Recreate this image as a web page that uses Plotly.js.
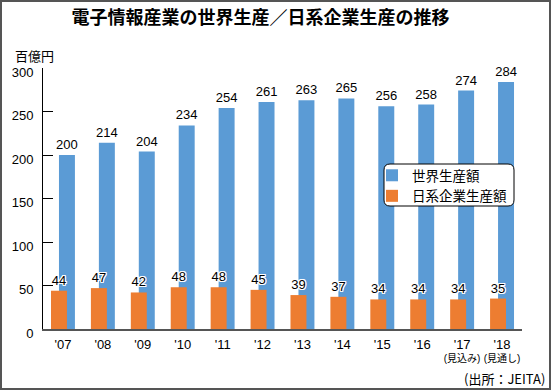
<!DOCTYPE html>
<html>
<head>
<meta charset="utf-8">
<script src="https://cdn.plot.ly/plotly-3.0.1.min.js"></script>
<style>
html,body{margin:0;padding:0;background:#fff;}
#chart{width:552px;height:391px;}
</style>
</head>
<body>
<div id="chart"></div>
<script>
var years = ["2007","2008","2009","2010","2011","2012","2013","2014","2015","2016","2017","2018"];
var tickLabels = ["'07","'08","'09","'10","'11","'12","'13","'14","'15","'16","'17","'18"];
var tickNotes = ["","","","","","","","","","","(見込み)","(見通し)"];
var worldProduction = [200,214,204,234,254,261,263,265,256,258,274,284];
var japanProduction = [44,47,42,48,48,45,39,37,34,34,34,35];
var seriesNames = ["世界生産額","日系企業生産額"];

var LATIN = "'Liberation Sans', Arial, 'Noto Sans CJK JP', sans-serif";
var CJK = "'Noto Sans CJK JP', 'Liberation Sans', sans-serif";
var halo = "1px 1px 0 #fff, -1px -1px 0 #fff, 1px -1px 0 #fff, -1px 1px 0 #fff, 0 1px 0 #fff, 0 -1px 0 #fff, 1px 0 0 #fff, -1px 0 0 #fff";

var ticktext = tickLabels.map(function(t, i){
  var s = "<span style='font-size:13px'>" + t + "</span>";
  if (tickNotes[i]) s += "<br>" + tickNotes[i];
  return s;
});

var traces = [
  {
    type: "bar", name: seriesNames[0], x: years, y: worldProduction,
    width: 0.4, offset: -0.1,
    marker: {color: "#5b9bd5"},
    text: worldProduction.map(String), textposition: "outside",
    constraintext: "none", cliponaxis: false,
    textfont: {family: LATIN, size: 13, color: "#000", shadow: halo},
    hoverinfo: "none"
  },
  {
    type: "bar", name: seriesNames[1], x: years, y: japanProduction,
    width: 0.4, offset: -0.3,
    marker: {color: "#ed7d31"},
    text: japanProduction.map(String), textposition: "outside",
    constraintext: "none", cliponaxis: false,
    textfont: {family: LATIN, size: 13, color: "#000", shadow: halo},
    hoverinfo: "none"
  }
];

// plot area: x 43..522, y 68..329
function px(x){ return (x - 43) / 479; }
function py(y){ return (329 - y) / 261; }
function roundRect(x0, y0, x1, y1, r){
  var rx = r / 479, ry = r / 261;
  var a = px(x0), b = px(x1), t = py(y0), u = py(y1);
  return "M" + (a+rx) + "," + t + " L" + (b-rx) + "," + t +
    " Q" + b + "," + t + " " + b + "," + (t-ry) +
    " L" + b + "," + (u+ry) + " Q" + b + "," + u + " " + (b-rx) + "," + u +
    " L" + (a+rx) + "," + u + " Q" + a + "," + u + " " + a + "," + (u+ry) +
    " L" + a + "," + (t-ry) + " Q" + a + "," + t + " " + (a+rx) + "," + t + " Z";
}

var layout = {
  width: 552, height: 391,
  margin: {l: 43, r: 30, t: 68, b: 62},
  paper_bgcolor: "#fff", plot_bgcolor: "#fff",
  barmode: "overlay",
  showlegend: true,
  title: {
    text: "電子情報産業の世界生産／日系企業生産の推移",
    font: {family: CJK, size: 18, color: "#000", weight: "bold"},
    xref: "container", yref: "container", x: 0.472, xanchor: "center", y: 0.955, yanchor: "middle"
  },
  xaxis: {
    type: "category", tickvals: years, ticktext: ticktext,
    tickfont: {family: LATIN, size: 10, color: "#000"},
    showline: true, linecolor: "#555", linewidth: 2,
    ticks: "", showgrid: false, zeroline: false, fixedrange: true,
    ticklabelstandoff: 6
  },
  yaxis: {
    range: [0, 300], dtick: 50, tick0: 0,
    tickfont: {family: LATIN, size: 13, color: "#000"},
    ticks: "inside", ticklen: 10, tickcolor: "#000", tickwidth: 1,
    showline: true, linecolor: "#000", linewidth: 1,
    showgrid: false, zeroline: false, ticklabelshift: 4, ticklabelstandoff: 6,
    fixedrange: true
  },
  legend: {
    x: px(372), y: py(160), xanchor: "left", yanchor: "top",
    bgcolor: "rgba(0,0,0,0)", borderwidth: 0,
    font: {family: CJK, size: 13.5, color: "#000"},
    traceorder: "normal", tracegroupgap: 0
  },
  shapes: [
    {type: "path", xref: "paper", yref: "paper", layer: "above",
     path: roundRect(384, 164, 514, 206, 6),
     line: {color: "#000", width: 1}, fillcolor: "#fff"},
    {type: "rect", xref: "paper", yref: "paper", layer: "above",
     x0: px(1), x1: px(550), y0: py(389), y1: py(1),
     line: {color: "#555", width: 2}, fillcolor: "rgba(0,0,0,0)"}
  ],
  annotations: [
    {text: "百億円", xref: "paper", yref: "paper", x: px(13), y: py(55.5),
     xanchor: "left", yanchor: "middle", showarrow: false,
     font: {family: CJK, size: 13, color: "#000"}},
    {text: "(出所：JEITA)", xref: "paper", yref: "paper", x: px(547), y: py(378),
     xanchor: "right", yanchor: "middle", showarrow: false,
     font: {family: CJK, size: 13, color: "#000"}}
  ]
};

Plotly.newPlot("chart", traces, layout, {displayModeBar: false, staticPlot: true});
</script>
</body>
</html>
